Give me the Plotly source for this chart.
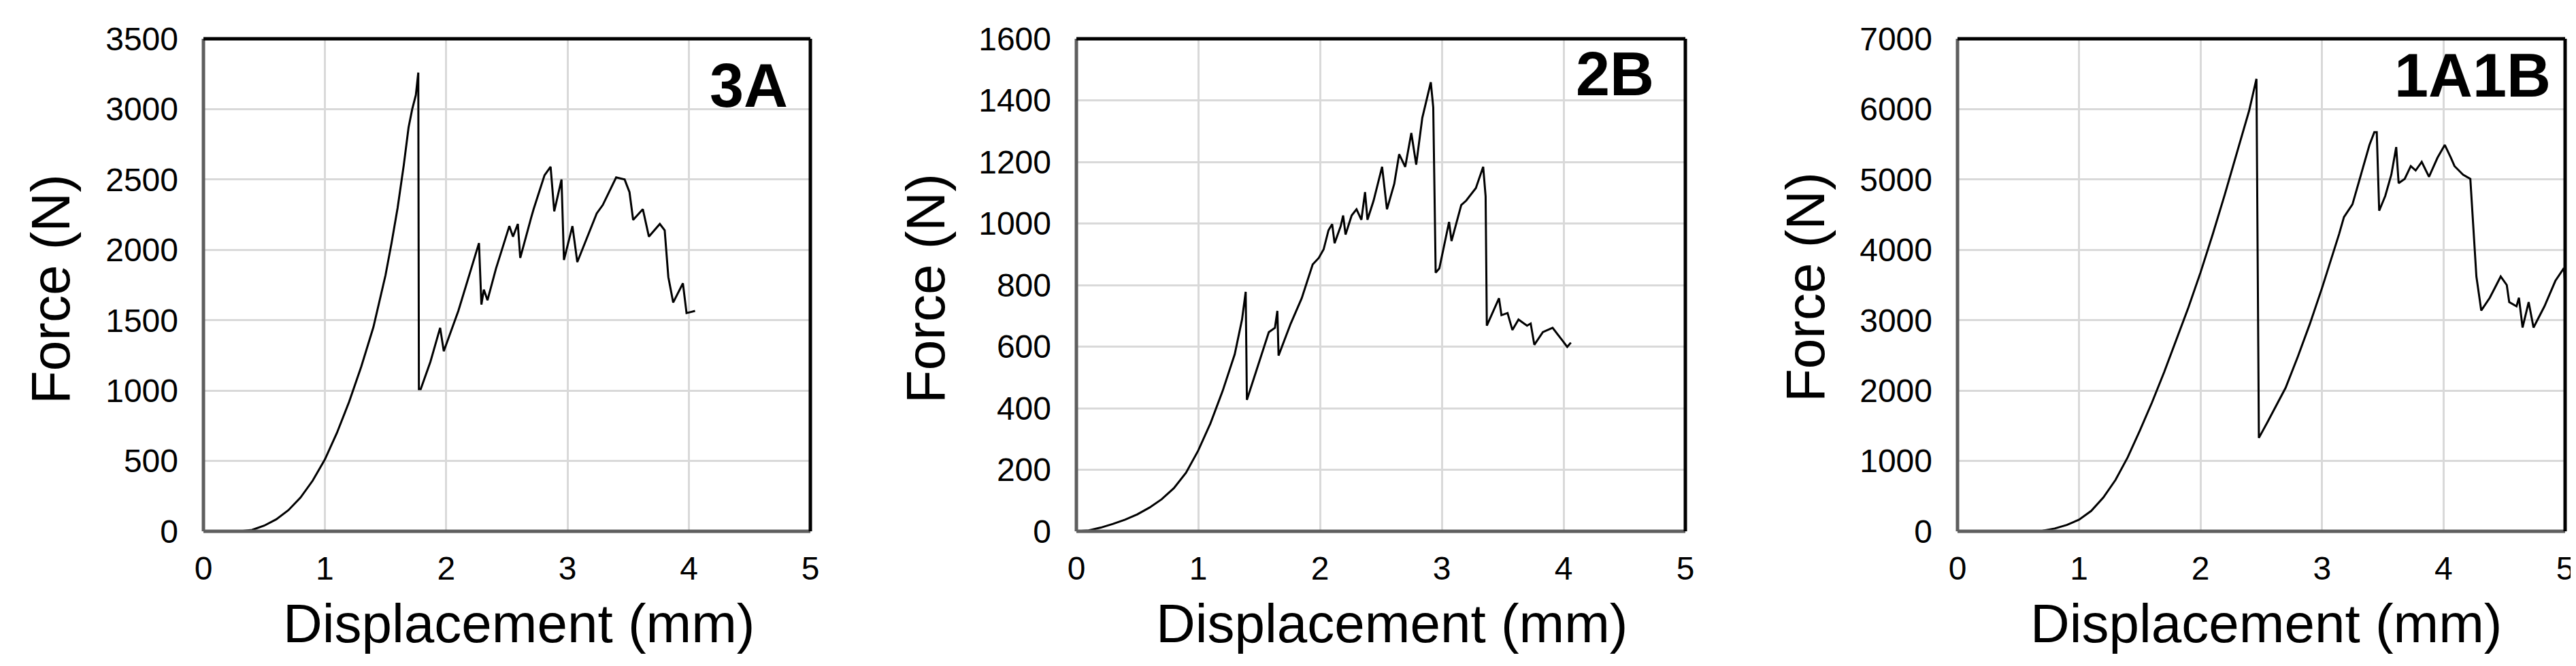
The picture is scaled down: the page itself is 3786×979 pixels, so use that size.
import plotly.graph_objects as go

W, H = 3786, 979

# ---------------- data ----------------
disp_3A = [0, 0.2, 0.3, 0.4, 0.5, 0.6, 0.7, 0.8, 0.9, 1.0, 1.1, 1.2, 1.3, 1.4, 1.5, 1.55, 1.6,
           1.65, 1.69, 1.72, 1.75, 1.77, 1.775, 1.79, 1.87, 1.95, 1.98, 2.10, 2.27, 2.29, 2.31, 2.34,
           2.41, 2.52, 2.55, 2.59, 2.61, 2.70, 2.72, 2.81, 2.86, 2.89, 2.95, 2.97, 3.04, 3.08, 3.24,
           3.29, 3.40, 3.47, 3.51, 3.54, 3.62, 3.67, 3.76, 3.80, 3.83, 3.87, 3.95, 3.98, 4.05]
force_3A = [0, 0, 0, 10, 40, 85, 150, 240, 360, 510, 700, 920, 1170, 1450, 1820, 2050, 2300,
            2600, 2870, 3000, 3100, 3260, 1010, 1010, 1205, 1446, 1280, 1566, 2048, 1611, 1717, 1642,
            1867, 2169, 2094, 2184, 1943, 2229, 2289, 2530, 2590, 2274, 2500, 1928, 2169, 1913, 2259,
            2319, 2515, 2500, 2410, 2213, 2289, 2094, 2184, 2139, 1807, 1626, 1762, 1551, 1566]

disp_2B = [0, 0.1, 0.2, 0.3, 0.4, 0.5, 0.6, 0.7, 0.8, 0.9, 1.0, 1.1, 1.2, 1.3, 1.36, 1.39, 1.40,
           1.49, 1.58, 1.63, 1.65, 1.66, 1.76, 1.85, 1.94, 1.99, 2.03, 2.07, 2.10, 2.12, 2.17, 2.19,
           2.21, 2.26, 2.30, 2.34, 2.37, 2.39, 2.44, 2.51, 2.55, 2.61, 2.65, 2.70, 2.75, 2.79, 2.84,
           2.91, 2.93, 2.95, 2.98, 3.06, 3.08, 3.16, 3.20, 3.28, 3.34, 3.36, 3.37, 3.47, 3.49, 3.54,
           3.58, 3.63, 3.70, 3.73, 3.76, 3.83, 3.91, 3.99, 4.03, 4.06]
force_2B = [0, 3, 12, 24, 38, 55, 77, 104, 140, 190, 262, 350, 455, 575, 688, 778, 427,
            537, 647, 661, 716, 571, 675, 757, 867, 888, 916, 978, 998, 936, 991, 1026,
            964, 1026, 1046, 1012, 1102, 1012, 1074, 1184, 1046, 1129, 1225, 1184, 1294, 1191, 1343,
            1459, 1377, 840, 854, 1005, 943, 1060, 1074, 1115, 1184, 1088, 668, 757, 702, 709,
            654, 688, 668, 675, 606, 647, 661, 620, 599, 613]

disp_1A1B = [0, 0.6, 0.7, 0.8, 0.9, 1.0, 1.1, 1.2, 1.3, 1.4, 1.5, 1.6, 1.7, 1.8, 1.9, 2.0, 2.1,
             2.2, 2.3, 2.4, 2.46, 2.48, 2.55, 2.6, 2.7, 2.8, 2.9, 3.0, 3.1, 3.14, 3.18, 3.25, 3.32,
             3.39, 3.43, 3.45, 3.47, 3.52, 3.57, 3.61, 3.63, 3.68, 3.73, 3.77, 3.82, 3.88, 3.95,
             4.01, 4.06, 4.09, 4.16, 4.22, 4.27, 4.31, 4.38, 4.47, 4.52, 4.54, 4.60, 4.62, 4.65,
             4.70, 4.74, 4.83, 4.92, 4.99, 5.0]
force_1A1B = [0, 0, 8, 40, 90, 165, 290, 480, 730, 1050, 1430, 1830, 2260, 2710, 3180, 3680, 4220,
              4790, 5380, 5980, 6430, 1328, 1550, 1710, 2040, 2480, 2950, 3460, 4000, 4224, 4466,
              4647, 5069, 5491, 5672, 5672, 4556, 4767, 5069, 5461, 4948, 5009, 5190, 5129, 5250,
              5039, 5310, 5491, 5310, 5190, 5069, 5009, 3621, 3138, 3319, 3621, 3500, 3258, 3198,
              3319, 2896, 3258, 2896, 3198, 3560, 3741, 3500]

panel_labels = ["3A", "2B", "1A1B"]
y_max = [3500, 1600, 7000]
y_step = [500, 200, 1000]
x_ticks = [0, 1, 2, 3, 4, 5]
x_title = "Displacement (mm)"
y_title = "Force (N)"

series = [(disp_3A, force_3A), (disp_2B, force_2B), (disp_1A1B, force_1A1B)]

# ---------------- layout geometry (pixels) ----------------
plot_x = [(291, 1183), (1574, 2469), (2869, 3762)]
plot_top, plot_bot = 49, 773
label_pos = [(1152, 118), (2425, 101), (3743, 103)]
ytitle_pos = [(66, 417), (1352, 416), (2645, 414)]
xtitle_pos = [(754, 908), (2038, 908), (3322, 908)]

def px(x):
    return x / W

def py(y):
    return 1 - y / H

FONT = "Arial, Liberation Sans, sans-serif"
fig = go.Figure()
layout = dict(
    template="none",
    width=W, height=H, margin=dict(l=0, r=0, t=0, b=0, pad=0, autoexpand=False),
    paper_bgcolor="white", plot_bgcolor="white", showlegend=False,
    font=dict(family=FONT, color="black"),
)
annotations = []
shapes = []
for i, (xs, ys) in enumerate(series):
    n = "" if i == 0 else str(i + 1)
    fig.add_trace(go.Scatter(x=xs, y=ys, mode="lines", line=dict(color="black", width=3),
                             xaxis="x" + n, yaxis="y" + n))
    x0, x1 = plot_x[i]
    layout["xaxis" + n] = dict(
        domain=[px(x0), px(x1)], range=[0, 5], tickvals=x_ticks, anchor="y" + n,
        showgrid=True, gridcolor="#d9d9d9", gridwidth=3, zeroline=False, showline=False,
        automargin=False,
        ticks="", tickfont=dict(size=48, family=FONT, color="black"), ticklabelstandoff=22,
    )
    layout["yaxis" + n] = dict(
        domain=[py(plot_bot), py(plot_top)], range=[0, y_max[i]], dtick=y_step[i], anchor="x" + n,
        showgrid=True, gridcolor="#d9d9d9", gridwidth=3, zeroline=False, showline=False,
        automargin=False,
        ticks="", tickfont=dict(size=48, family=FONT, color="black"), ticklabelstandoff=36,
    )
    xr, yr = "x" + n + " domain", "y" + n + " domain"
    # frame: left/bottom grey, top/right black
    shapes.append(dict(type="line", xref=xr, yref=yr, x0=0, x1=0, y0=0, y1=1,
                       line=dict(color="#5e5e5e", width=5)))
    shapes.append(dict(type="line", xref=xr, yref=yr, x0=0, x1=1, y0=0, y1=0,
                       line=dict(color="#5e5e5e", width=5)))
    shapes.append(dict(type="line", xref=xr, yref=yr, x0=0, x1=1, y0=1, y1=1,
                       line=dict(color="black", width=5)))
    shapes.append(dict(type="line", xref=xr, yref=yr, x0=1, x1=1, y0=0, y1=1,
                       line=dict(color="black", width=5)))
    lx, ly = label_pos[i]
    annotations.append(dict(text="<b>%s</b>" % panel_labels[i], xref="paper", yref="paper",
                            x=px(lx), y=py(ly), xanchor="right", yanchor="middle", showarrow=False,
                            font=dict(size=90, family=FONT, color="black")))
    tx, ty = ytitle_pos[i]
    annotations.append(dict(text=y_title, xref="paper", yref="paper", x=px(tx), y=py(ty),
                            xanchor="center", yanchor="middle", textangle=-90, showarrow=False,
                            font=dict(size=80, family=FONT, color="black")))
    tx, ty = xtitle_pos[i]
    annotations.append(dict(text=x_title, xref="paper", yref="paper", x=px(tx), y=py(ty),
                            xanchor="center", yanchor="middle", showarrow=False,
                            font=dict(size=80, family=FONT, color="black")))

layout["annotations"] = annotations
layout["shapes"] = shapes
fig.update_layout(**layout)
fig.write_html("out.html")
